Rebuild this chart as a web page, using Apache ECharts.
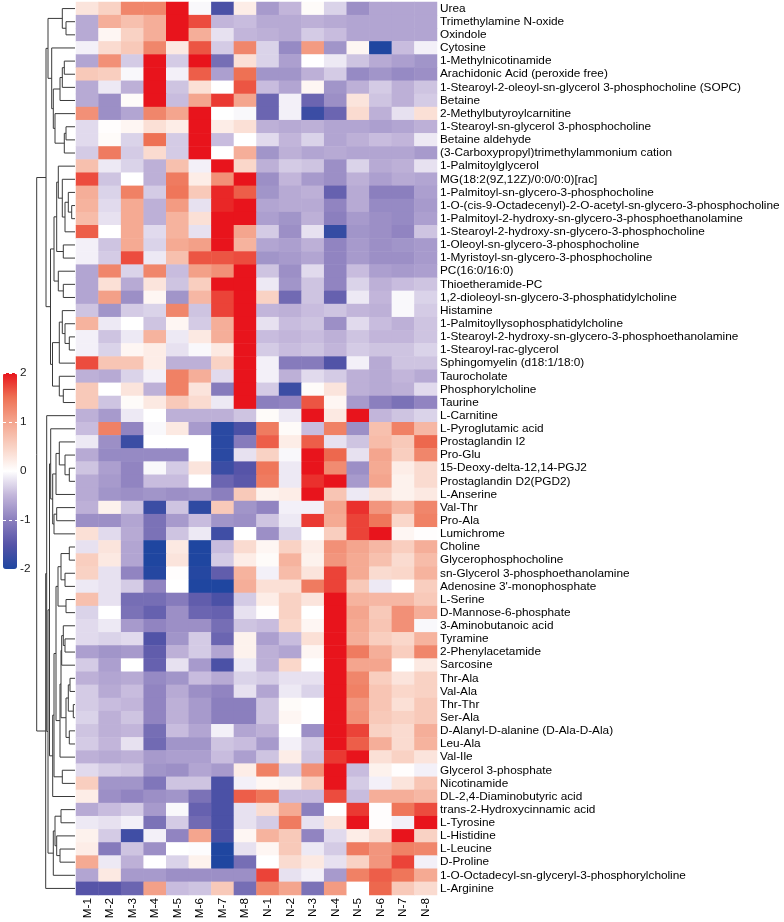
<!DOCTYPE html>
<html><head><meta charset="utf-8">
<script src="https://cdn.jsdelivr.net/npm/echarts@6/dist/echarts.min.js"></script>
<style>html,body{margin:0;padding:0;background:#fff}#c{width:784px;height:922px}</style>
</head><body><div id="c"></div>
<script>
const colNames = ['M-1','M-2','M-3','M-4','M-5','M-6','M-7','M-8','N-1','N-2','N-3','N-4','N-5','N-6','N-7','N-8'];
const rowNames = ['Urea','Trimethylamine N-oxide','Oxindole','Cytosine','1-Methylnicotinamide','Arachidonic Acid (peroxide free)','1-Stearoyl-2-oleoyl-sn-glycerol 3-phosphocholine (SOPC)','Betaine','2-Methylbutyroylcarnitine','1-Stearoyl-sn-glycerol 3-phosphocholine','Betaine aldehyde','(3-Carboxypropyl)trimethylammonium cation','1-Palmitoylglycerol','MG(18:2(9Z,12Z)/0:0/0:0)[rac]','1-Palmitoyl-sn-glycero-3-phosphocholine','1-O-(cis-9-Octadecenyl)-2-O-acetyl-sn-glycero-3-phosphocholine','1-Palmitoyl-2-hydroxy-sn-glycero-3-phosphoethanolamine','1-Stearoyl-2-hydroxy-sn-glycero-3-phosphocholine','1-Oleoyl-sn-glycero-3-phosphocholine','1-Myristoyl-sn-glycero-3-phosphocholine','PC(16:0/16:0)','Thioetheramide-PC','1,2-dioleoyl-sn-glycero-3-phosphatidylcholine','Histamine','1-Palmitoyllysophosphatidylcholine','1-Stearoyl-2-hydroxy-sn-glycero-3-phosphoethanolamine','1-Stearoyl-rac-glycerol','Sphingomyelin (d18:1/18:0)','Taurocholate','Phosphorylcholine','Taurine','L-Carnitine','L-Pyroglutamic acid','Prostaglandin I2','Pro-Glu','15-Deoxy-delta-12,14-PGJ2','Prostaglandin D2(PGD2)','L-Anserine','Val-Thr','Pro-Ala','Lumichrome','Choline','Glycerophosphocholine','sn-Glycerol 3-phosphoethanolamine',"Adenosine 3'-monophosphate",'L-Serine','D-Mannose-6-phosphate','3-Aminobutanoic acid','Tyramine','2-Phenylacetamide','Sarcosine','Thr-Ala','Val-Ala','Thr-Thr','Ser-Ala','D-Alanyl-D-alanine (D-Ala-D-Ala)','Leu-Ala','Val-Ile','Glycerol 3-phosphate','Nicotinamide','DL-2,4-Diaminobutyric acid','trans-2-Hydroxycinnamic acid','L-Tyrosine','L-Histidine','L-Leucine','D-Proline','1-O-Octadecyl-sn-glyceryl-3-phosphorylcholine','L-Arginine'];
const values = [
[0.3,0.5,1.3,1.3,2.5,-0.05,-1.6,0.2,-0.75,-0.5,0.05,-0.3,-0.85,-0.65,-0.65,-0.65],
[-0.6,0.9,0.7,0.9,2.5,1.7,-0.5,-0.45,-0.6,-0.6,-0.55,-0.6,-0.65,-0.65,-0.65,-0.65],
[-0.6,0.1,0.5,0.9,2.5,0.9,-0.2,-0.5,-0.55,-0.6,-0.35,-0.45,-0.65,-0.65,-0.65,-0.65],
[-0.1,0.4,0.6,1.3,0.25,1.65,-0.35,1.3,-0.3,-0.9,1.1,-0.8,0.1,-2.3,-0.45,-0.1],
[-0.65,1.2,-0.35,2.5,-0.35,2.1,-1.2,0.35,-0.3,-0.7,0,-0.15,-0.4,-0.6,-0.7,-0.8],
[0.6,0.55,-0.05,2.5,-0.1,1.6,-0.7,1.5,-0.8,-0.8,-0.55,-0.35,-0.9,-0.8,-0.9,-0.85],
[-0.6,-0.15,-0.55,2.5,-0.4,0.35,0,1.65,-0.45,-0.65,0.1,-0.8,-0.55,-0.35,-0.55,-0.4],
[-0.6,-0.85,0.05,2.5,-0.45,1.0,1.8,1.0,-1.3,-0.1,-1.3,-0.85,0.3,-0.4,-0.55,-0.35],
[1.2,-0.85,-0.65,1.3,1.0,2.5,0,-0.05,-1.3,-0.1,-1.75,-1.3,0.4,-0.55,-0.2,0.35],
[-0.25,0.02,0.1,0.35,0.2,2.5,0.2,0.35,-0.55,-0.6,-0.55,-0.65,-0.65,-0.7,-0.65,-0.55],
[-0.25,0.05,-0.3,1.5,-0.35,2.5,-0.45,0,-0.25,-0.5,-0.3,-0.65,-0.55,-0.45,-0.5,-0.15],
[-0.35,1.4,-0.35,0.4,-0.35,2.5,0,0.9,-0.8,-0.55,-0.65,-0.6,-0.65,-0.65,-0.65,-0.75],
[0.7,-0.15,-0.3,-0.55,0.7,-0.1,2.5,0.45,-0.55,-0.35,-0.4,-0.85,-0.3,-0.6,-0.55,-0.2],
[1.7,-0.4,0,-0.55,1.4,0.2,1.2,2.5,-0.85,-0.5,-0.75,-0.85,-0.55,-0.7,-0.6,-0.65],
[0.9,-0.3,1.35,-0.35,1.45,0.6,1.9,1.6,-0.8,-0.6,-0.55,-1.35,-0.6,-1.0,-1.0,-0.7],
[0.85,-0.25,0.95,-0.55,1.1,-0.2,1.9,2.5,-0.65,-0.6,-0.6,-0.95,-0.6,-0.9,-0.9,-0.75],
[0.75,-0.2,0.95,-0.55,0.85,0.35,2.5,2.5,-0.7,-0.8,-0.55,-1.0,-0.75,-0.85,-0.9,-0.7],
[1.6,0,0.95,-0.25,0.85,-0.2,2.5,1.0,-0.35,-0.85,-0.2,-1.8,-0.8,-0.85,-0.95,-0.4],
[-0.1,-0.4,0.95,-0.3,0.95,1.05,2.5,0.85,-0.65,-0.7,-0.55,-0.95,-0.75,-0.85,-0.8,-0.75],
[-0.1,-0.35,1.7,-0.15,0.7,1.65,1.65,1.7,-0.8,-0.75,-0.65,-0.95,-0.75,-0.85,-0.85,-0.75],
[-0.65,1.3,-0.3,1.3,-0.45,1.05,1.2,2.5,-0.4,-0.85,-0.25,-0.95,-0.45,-0.7,-0.75,-0.7],
[-0.65,0.35,-0.6,0.3,-0.4,0.55,2.5,2.5,-0.15,-0.8,-0.4,-0.95,-0.3,-0.55,-0.45,-0.4],
[-0.65,1.05,-0.85,0.1,-0.8,0.8,1.75,2.5,0.5,-1.25,-0.4,-1.35,-0.15,-0.5,-0.05,-0.3],
[-0.4,-0.8,-0.35,-0.3,1.3,-0.4,1.75,2.5,-0.5,-0.55,-0.45,-0.4,-0.5,-0.55,-0.05,-0.35],
[0.85,-0.15,0,-0.4,0.1,-0.35,0.9,2.5,-0.2,-0.45,-0.4,-0.85,-0.25,-0.45,-0.55,-0.4],
[-0.1,-0.4,-0.15,0.85,-0.15,0.25,0.9,2.5,-0.45,-0.5,-0.45,-0.55,-0.4,-0.5,-0.5,-0.4],
[-0.1,-0.3,0.1,0.2,-0.2,-0.05,0.25,2.5,-0.35,-0.45,-0.4,-0.5,-0.35,-0.4,-0.4,-0.3],
[1.7,0.65,0.65,0.2,-0.55,-0.55,0.5,2.5,-0.1,-1.05,-1.05,-1.55,-0.1,-0.6,-0.4,-0.4],
[-0.55,-0.6,-0.3,-0.1,1.35,0.9,-0.25,2.5,-0.1,-0.55,-0.25,-0.35,-0.55,-0.6,-0.5,-0.6],
[0.6,0,0.3,-0.55,1.35,0.3,-1.05,2.5,-0.35,-1.75,0.05,0.3,-0.55,-0.6,-0.55,-0.25],
[0.6,-0.4,0.05,0.25,0.6,0.4,-0.15,2.5,-1.0,-0.95,1.65,0.1,-0.75,-1.0,-1.15,-0.95],
[-0.55,-0.75,-0.15,0,-0.55,-0.55,-0.55,-0.4,0.05,-0.15,2.5,0.25,2.5,-0.5,-0.4,-0.3],
[-0.45,1.35,-0.95,-0.05,0.25,-0.75,-1.9,-1.6,1.4,0.05,-0.45,1.35,-0.85,0.7,1.35,0.8],
[-0.15,-0.85,-1.75,0,0,0,-1.9,-1.05,1.6,0.2,1.6,-0.2,-0.4,0.75,0.6,1.55],
[-0.6,-0.9,-0.9,-0.9,-0.9,0,-1.9,-0.2,0.5,-0.05,2.5,1.55,-0.2,1.0,0.55,1.3],
[-0.4,-0.7,-0.95,-0.05,-0.35,0.3,-1.75,-1.5,1.45,-0.15,2.5,1.25,-0.85,0.95,0.2,0.4],
[-0.6,-0.75,-0.95,-0.45,-0.45,0,-1.3,-1.45,1.4,-0.15,1.85,2.5,-0.75,1.0,0.15,0.4],
[-0.6,-0.8,-0.85,-0.8,-0.85,-0.8,-1.0,0.6,0.15,0.2,2.5,0.65,-0.15,0.3,0.15,0.25],
[-0.55,0.15,-0.4,-1.75,-0.4,-1.85,0.6,-0.8,-0.95,-0.1,-0.1,1.0,1.85,1.15,0.85,1.3],
[-0.85,-0.85,-0.65,-1.15,-0.75,-0.45,-0.8,-0.85,-0.4,-0.15,1.8,0.95,1.75,1.45,0.45,1.35],
[0.35,-0.25,-0.6,-1.15,-0.4,-0.15,-1.7,0,-0.85,-0.3,0,0.55,1.75,2.3,0.1,0.02],
[-0.2,0.3,-0.65,-2.3,0.25,-2.3,-0.45,0.4,0.1,0.5,0.2,1.2,1.0,0.8,0.55,0.9],
[0.55,0.25,-0.65,-2.3,0.3,-2.3,-0.35,0.2,0.05,0.85,0.15,1.15,0.95,0.7,0.4,0.75],
[0.5,-0.2,-0.95,-1.95,0.02,-1.95,-1.4,0.85,-0.1,0.75,0.3,1.75,0.95,0.4,0.45,0.85],
[-0.15,-0.2,-0.35,-0.95,0,-2.2,-2.1,0.9,0.35,0.35,1.4,1.75,0.6,-0.15,0,0.55],
[0.7,-0.2,-1.2,-1.2,-1.05,-1.4,-1.6,-0.35,0.2,0.5,0.3,2.5,0.85,0.8,0.8,0.6],
[-0.3,0,-1.15,-1.35,-0.85,-1.3,-1.35,-0.2,0.02,0.5,0,2.5,1.0,0.6,1.2,0.9],
[-0.25,-0.15,-0.75,-0.95,-0.85,-0.85,-1.2,-0.4,-0.45,0.45,0.1,2.5,0.95,0.65,1.2,-0.05],
[-0.25,-0.3,-0.25,-1.55,-0.8,-0.35,-1.3,0.15,-0.7,-0.45,0.35,2.5,0.9,0.55,0.45,0.85],
[-0.7,-0.8,-0.75,-1.4,-0.55,-0.35,-0.65,0.15,-0.55,-0.65,0.1,2.5,1.4,0.9,0.55,1.3],
[-0.35,-0.7,0,-1.35,-0.2,-0.75,-1.6,-0.15,-0.55,0.45,0,2.5,1.0,1.0,0,0.25],
[-0.55,-0.65,-0.6,-0.9,-0.8,-0.45,-0.6,-0.3,-0.35,-0.2,-0.2,2.5,1.3,0.55,0.3,0.5],
[-0.35,-0.6,-0.45,-0.95,-0.6,-0.85,-0.95,-0.2,-0.65,-0.15,-0.3,2.5,1.35,0.65,0.45,0.5],
[-0.35,-0.45,-0.5,-0.95,-0.55,-0.75,-1.0,-1.0,-0.4,0.05,0,2.5,1.15,0.65,0.35,0.6],
[-0.3,-0.55,-0.4,-0.95,-0.55,-0.75,-1.0,-1.0,-0.4,0.1,0,2.5,1.2,0.6,0.5,0.6],
[-0.4,-0.55,-0.5,-1.2,-0.45,-0.65,-0.1,-0.65,-0.55,0,-0.85,2.5,1.75,0.5,0.4,0.9],
[-0.35,-0.5,-0.2,-1.25,-0.8,-0.8,-0.4,-0.45,-0.75,-0.1,-0.35,2.5,1.6,0.9,0.4,0.85],
[-0.55,-0.6,-0.55,-0.75,-0.7,-0.7,-0.45,-0.7,-0.4,0.2,-0.4,1.8,2.5,0.35,0.5,0.3],
[-0.25,-0.35,-0.4,-0.8,-0.85,-0.65,-0.75,0.2,1.35,-0.35,1.2,2.5,-0.45,0.15,0.02,-0.1],
[0.55,-0.8,-0.8,-1.1,-0.4,-0.4,-1.6,-0.1,0.1,0.15,0.55,2.5,-0.35,-0.1,0.3,0.65],
[0.2,-0.85,-0.95,-0.85,-0.8,-1.15,-1.6,1.6,1.45,-0.45,-0.45,1.7,-0.45,0.9,0.9,0.8],
[-0.6,-0.45,-0.35,-0.75,-0.05,-1.35,-1.6,-0.2,0.4,0.95,-1.0,0,1.8,0.02,1.45,1.7],
[-0.15,-0.2,-0.1,-1.15,-0.35,-1.25,-1.6,-0.2,-0.35,1.4,-0.2,0.3,2.5,0.02,-0.1,2.3],
[0.15,-0.35,-1.7,-0.1,-0.95,1.0,-1.6,0.1,0.85,0.6,-0.95,-0.25,0.2,0.4,2.5,0.5],
[0.2,-1.05,-0.4,-0.85,0,-0.02,-2.2,-0.2,0.1,0.6,-0.15,-0.35,1.4,1.15,1.35,1.3],
[0.95,-0.15,-0.55,0,-0.3,0.15,-2.2,-1.2,0,0.4,0.25,-0.2,0.5,1.15,1.75,-0.1],
[-0.65,0.25,-0.75,-0.75,-0.85,-0.85,-0.85,-0.85,1.75,-0.2,-0.1,-0.75,1.35,1.6,1.45,0.95],
[-1.5,-1.5,-1.3,1.05,-0.45,-0.4,0.6,-1.2,1.3,1.0,-1.15,1.1,0,1.55,0.6,0.4]
];
// row dendrogram: [mergeHeight, childA, childB]; leaves are row indices
const treeTop = [29,
  [27, [12.7, 0, [9, 1, 2]],
       [23.3, 3, [21.7, [15, [12.7, [10.7, 4, 5], 6], 7], [20, [10.7, [9, 9, 10], 11], 8]]]],
  [24.5,
    [21, [18.3, [16.7, 12, [12.7, 13, [10, [6.7, 14, [3.3, 15, 16]], 17]]], [11.7, 18, 19]],
         [16.7, 20, [11.7, 21, 22]]],
    [22.5, [15.7, [12.7, 23, [10, 24, [5.7, 25, 26]]], 27], [15.7, 28, [11.7, 29, 30]]]]];
const treeBottom = [29.3,
  [28.3, 31,
    [27,
      [25.5,
        [24.3, 32, [22.3, [19, [15.7, 33, [10, 34, [5.7, 35, 36]]], 37], [21, [18.3, 38, 39], 40]]],
        [22.3, [21, [19, [17, [14, [5.7, 41, 42], [10, 43, 44]], [9, 45, 46]],
                         [15, [14, [13.3, [11.7, 47, [10, 48, 49]], 50], [9, [6.7, [5, 51, 52], [1.7, 53, 54]], [5.7, 55, 56]]], 57]],
                    [12.7, 58, 59]], 60]],
      [21.7, [20, [14, 61, 62], [18.3, 63, [15, 64, 65]]], 66]]],
  67];
const rootHeight = 38.3;
const legendTicks = [-2, -1, 0, 1, 2];

const heatData = [];
values.forEach((row, r) => row.forEach((v, c) => heatData.push([c, r, Math.max(-2, Math.min(2, v))])));

const links = [];
function walk(node) {
  if (typeof node === 'number') return {y: node, h: 0};
  const a = walk(node[1]), b = walk(node[2]);
  links.push([node[0], a.y, b.y, a.h, b.h]);
  return {y: (a.y + b.y) / 2, h: node[0]};
}
walk([rootHeight, treeTop, treeBottom]);

const font = "'Liberation Sans', Arial, Helvetica, sans-serif";
const chart = echarts.init(document.getElementById('c'), null, {renderer: 'canvas'});
chart.setOption({
  animation: false,
  backgroundColor: '#fff',
  textStyle: {fontFamily: font},
  grid: [
    {left: 76, right: 347, top: 2, bottom: 27},
    {left: 36, width: 39, top: 2, bottom: 27},
    {left: 3, top: 373, width: 14, height: 196}
  ],
  xAxis: [
    {type: 'category', gridIndex: 0, data: colNames, axisLine: {show: false}, axisTick: {show: false}, splitLine: {show: false},
     axisLabel: {interval: 0, rotate: 90, fontSize: 11.8, color: '#000', margin: 3, fontFamily: font}},
    {type: 'value', gridIndex: 1, min: 0, max: 39, inverse: true, show: false},
    {type: 'category', gridIndex: 2, data: [''], show: false}
  ],
  yAxis: [
    {type: 'category', gridIndex: 0, data: rowNames, inverse: true, position: 'right', axisLine: {show: false}, axisTick: {show: false}, splitLine: {show: false},
     axisLabel: {interval: 0, fontSize: 11.8, color: '#000', margin: 3, fontFamily: font}},
    {type: 'value', gridIndex: 1, min: -0.5, max: rowNames.length - 0.5, inverse: true, show: false},
    {type: 'value', gridIndex: 2, min: legendTicks[0], max: legendTicks[legendTicks.length - 1], interval: 1, position: 'right', z: 10,
     axisLine: {show: false}, axisTick: {show: false},
     axisLabel: {fontSize: 11.8, color: '#222', margin: 3, fontFamily: font},
     splitLine: {show: true, lineStyle: {color: '#ffffff', type: [3, 3], width: 1}}}
  ],
  visualMap: {
    type: 'continuous', min: -2, max: 2, seriesIndex: 0, dimension: 2,
    left: 3, top: 373, itemWidth: 14, itemHeight: 196, padding: 0, calculable: false, hoverLink: false,
    inRange: {color: ['#1f46a0', '#5654a8', '#8b7fbe', '#c2b5da', '#ffffff', '#f9d2c4', '#f4a58e', '#ee7154', '#e8141c']}
  },
  series: [
    {type: 'heatmap', xAxisIndex: 0, yAxisIndex: 0, data: heatData, progressive: 0, emphasis: {disabled: true},
     itemStyle: {borderWidth: 0}},
    {type: 'custom', xAxisIndex: 1, yAxisIndex: 1, data: links, silent: true,
     renderItem: function (params, api) {
       const h = api.value(0), ya = api.value(1), yb = api.value(2), ha = api.value(3), hb = api.value(4);
       const p1 = api.coord([ha, ya]), p2 = api.coord([h, ya]), p3 = api.coord([h, yb]), p4 = api.coord([hb, yb]);
       return {type: 'polyline', shape: {points: [p1, p2, p3, p4]}, style: {stroke: '#3a3a3a', lineWidth: 1, fill: null}};
     }}
  ]
});
</script></body></html>
